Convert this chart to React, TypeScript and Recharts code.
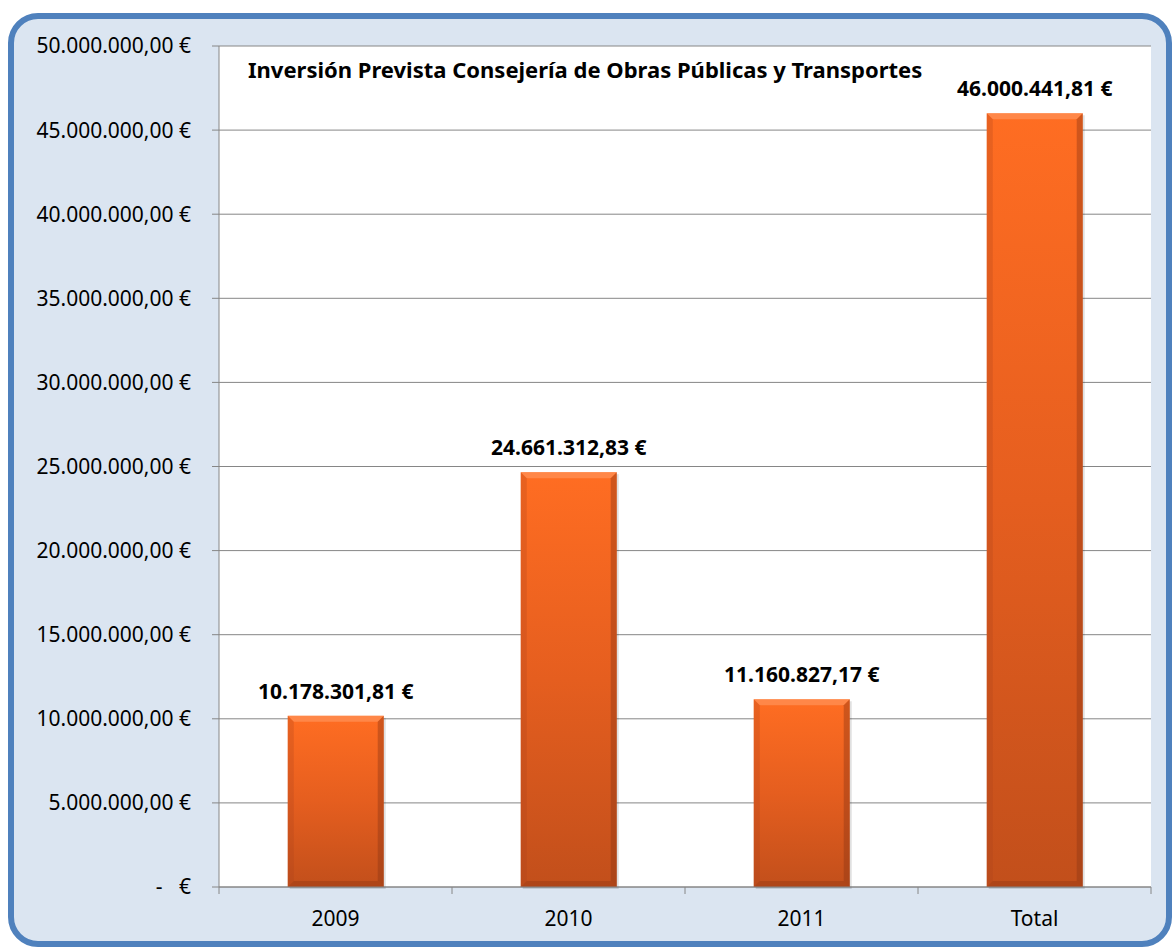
import React from "react";
import {
  BarChart,
  Bar,
  XAxis,
  YAxis,
  CartesianGrid,
  LabelList,
} from "recharts";

// Inversión prevista por año (€)
const years = ["2009", "2010", "2011", "Total"];
const inversion = [10178301.81, 24661312.83, 11160827.17, 46000441.81];
const yTicks = [
  0, 5000000, 10000000, 15000000, 20000000, 25000000, 30000000, 35000000,
  40000000, 45000000, 50000000,
];

const data = years.map((year, i) => ({ year, value: inversion[i] }));

const FONT = "'Noto Sans', 'Open Sans', sans-serif";
const GRID = "#868686";
const X_TICK_SIZE = 7;
const X_TICK_MARGIN = 17;

function fmtEuro(v: number) {
  const [ent, dec] = v.toFixed(2).split(".");
  return `${ent.replace(/\B(?=(\d{3})+(?!\d))/g, ".")},${dec} €`;
}

function fmtTick(v: number) {
  if (v === 0) return "-\u00A0\u00A0\u00A0€";
  return fmtEuro(v);
}

// Etiqueta del eje X con marcas en los límites de cada categoría (estilo Excel)
function XTick(props: any) {
  const { x, y, payload, index, visibleTicksCount, width } = props;
  const half = payload.offset ?? width / visibleTicksCount / 2;
  const axisY = y - X_TICK_SIZE - X_TICK_MARGIN;
  return (
    <g>
      <line x1={x - half} x2={x - half} y1={axisY} y2={axisY + X_TICK_SIZE} stroke={GRID} />
      {index === visibleTicksCount - 1 && (
        <line x1={x + half} x2={x + half} y1={axisY} y2={axisY + X_TICK_SIZE} stroke={GRID} />
      )}
      <text x={x} y={y} dy="0.71em" textAnchor="middle" fill="#000" fontSize={21} fontFamily={FONT}>
        {payload.value}
      </text>
    </g>
  );
}

// Etiqueta de valor sobre la barra, en una sola línea
function ValueLabel(props: any) {
  const vb = props.viewBox ?? props;
  const { x, y, width } = vb;
  return (
    <text
      x={x + width / 2}
      y={y - 17}
      textAnchor="middle"
      fill="#000"
      fontSize={21}
      fontWeight={700}
      fontFamily={FONT}
    >
      {fmtEuro(Number(props.value))}
    </text>
  );
}

// Barra con bisel
function BevelBar(props: any) {
  const { x, y, width: w, height: h } = props;
  if (!h || h <= 0) return null;
  const b = 6;
  return (
    <g>
      <rect x={x + 2} y={y + 2} width={w} height={h} fill="#000" opacity={0.12} />
      <rect x={x} y={y} width={w} height={h} fill="url(#barGrad)" />
      <polygon
        points={`${x},${y} ${x + w},${y} ${x + w - b},${y + b} ${x + b},${y + b}`}
        fill="#ff9a62"
        opacity={0.6}
      />
      <polygon
        points={`${x},${y} ${x + b},${y + b} ${x + b},${y + h - b} ${x},${y + h}`}
        fill="#a8401a"
        opacity={0.25}
      />
      <polygon
        points={`${x + w},${y} ${x + w - b},${y + b} ${x + w - b},${y + h - b} ${x + w},${y + h}`}
        fill="#8a3414"
        opacity={0.4}
      />
      <polygon
        points={`${x},${y + h} ${x + b},${y + h - b} ${x + w - b},${y + h - b} ${x + w},${y + h}`}
        fill="#8a3414"
        opacity={0.35}
      />
    </g>
  );
}

export default function App() {
  return (
    <div style={{ position: "absolute", left: 8, top: 13, width: 1164, height: 934 }}>
      <div
        style={{
          position: "absolute",
          inset: 0,
          boxSizing: "border-box",
          border: "6px solid #4f81bd",
          borderRadius: 30,
          background: "#dbe5f1",
        }}
      />
      <div style={{ position: "absolute", left: 0, top: 0 }}>
        <BarChart
          width={1164}
          height={934}
          data={data}
          margin={{ top: 33, right: 21, left: 0, bottom: 0 }}
          barCategoryGap="29.5%"
        >
          <defs>
            <linearGradient id="barGrad" x1="0" y1="0" x2="0" y2="1">
              <stop offset="0%" stopColor="#ff6d22" />
              <stop offset="50%" stopColor="#e55e1f" />
              <stop offset="100%" stopColor="#c24f1b" />
            </linearGradient>
          </defs>
          <CartesianGrid vertical={false} stroke={GRID} fill="#fff" />
          <XAxis
            dataKey="year"
            height={60}
            stroke={GRID}
            tickLine={false}
            tickSize={X_TICK_SIZE}
            tickMargin={X_TICK_MARGIN}
            tick={<XTick />}
          />
          <YAxis
            width={211}
            domain={[0, 50000000]}
            ticks={yTicks}
            interval={0}
            stroke={GRID}
            tickSize={7}
            tickMargin={21}
            tickFormatter={fmtTick}
            tick={{ fill: "#000", fontSize: 21, fontFamily: FONT }}
          />
          <Bar dataKey="value" shape={<BevelBar />} isAnimationActive={false}>
            <LabelList dataKey="value" content={<ValueLabel />} />
          </Bar>
        </BarChart>
      </div>
      <div
        style={{
          position: "absolute",
          left: 240,
          top: 41,
          fontFamily: FONT,
          fontWeight: 700,
          fontSize: 22,
          color: "#000",
          whiteSpace: "nowrap",
        }}
      >
        Inversión Prevista Consejería de Obras Públicas y Transportes
      </div>
    </div>
  );
}
